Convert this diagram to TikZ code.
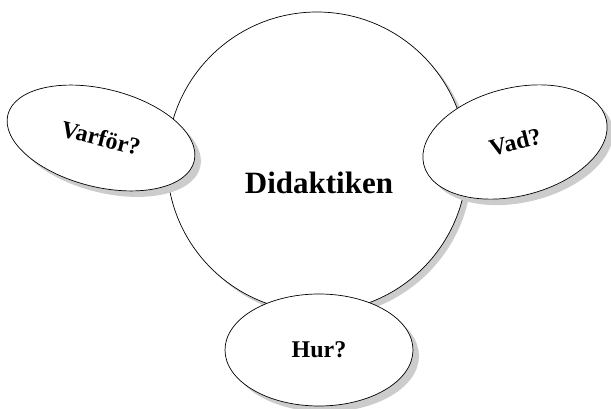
\documentclass[tikz,border=0pt]{standalone}
\usepackage{fontspec}
\setmainfont{Liberation Serif}
\usepackage{tikz}
\usetikzlibrary{shapes,shadows}

\begin{document}
\begin{tikzpicture}[x=1pt, y=-1pt]
    % Define styles
    \tikzstyle{hub} = [circle, minimum size=300pt, inner sep=0pt, draw=black, line width=0.7pt, fill=white, drop shadow={shadow xshift=5pt, shadow yshift=-5pt, fill=black!20, opacity=1}]
    \tikzstyle{question} = [ellipse, inner sep=0pt, draw=black, line width=0.7pt, fill=white, font=\fontsize{24}{24}\selectfont\bfseries, drop shadow={shadow xshift=6pt, shadow yshift=-6pt, fill=black!20, opacity=1}]
    \tikzstyle{title} = [font=\fontsize{31}{31}\selectfont\bfseries]

    \useasboundingbox (0,0) rectangle (611,409);

    % Nodes
    \node[hub] (didaktik) at (317,162) {};
    \node[title] (didaktiktext) at (319,183) {Didaktiken};
    \node[question, minimum width=192pt, minimum height=98pt, rotate=-14] (varfor) at (101,138) {Varför?};
    \node[question, minimum width=188pt, minimum height=108pt, rotate=14] (vad) at (515,142) {Vad?};
    \node[question, minimum width=188pt, minimum height=112pt] (hur) at (319,350) {Hur?};
\end{tikzpicture}
\end{document}
